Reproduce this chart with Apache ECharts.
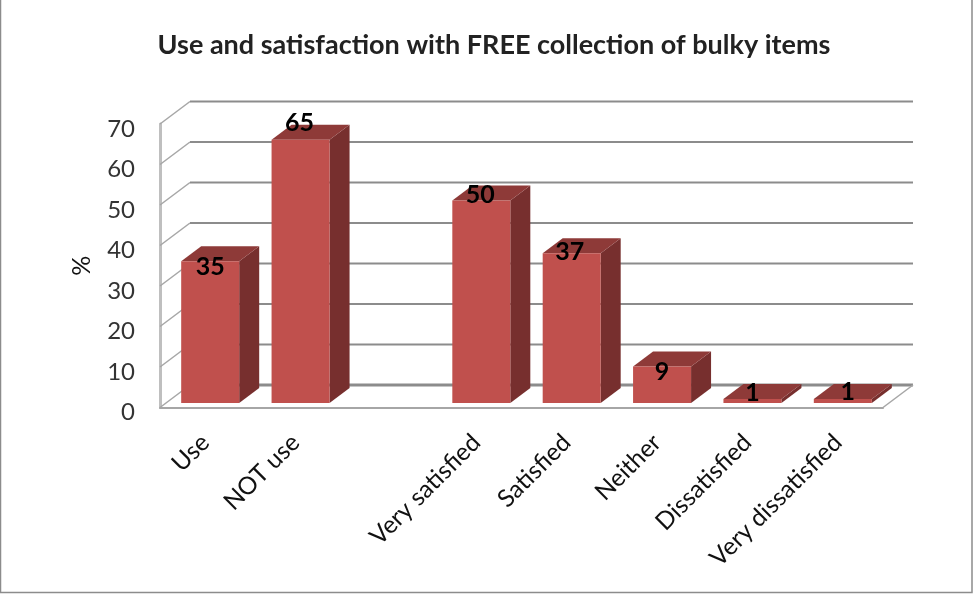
<!DOCTYPE html>
<html>
<head>
<meta charset="utf-8">
<title>Use and satisfaction with FREE collection of bulky items</title>
<script src="https://cdn.jsdelivr.net/npm/echarts@6/dist/echarts.min.js"></script>
<style>
html,body{margin:0;padding:0;background:#fff;}
#chart{width:973px;height:594px;}
</style>
</head>
<body>
<div id="chart"></div>
<script>
//数据
var titleText = "Use and satisfaction with FREE collection of bulky items";
var yName = "%";
var categories = ["Use","NOT use","","Very satisfied","Satisfied","Neither","Dissatisfied","Very dissatisfied"];
var percent = [35,65,null,50,37,9,1,1];
var yTicks = [0,10,20,30,40,50,60,70];

//立体效果的偏移
var depthX = 30, depthY = 22.5;
var barDx = 5, barDy = 4.5, barWidth = 58, sideX = 20, sideY = 15;
//数字标签相对柱子正面顶部中心的偏移
var labelDx = [0,-1,0,-1,-2,0,0,5];
var labelDy = [6,-17,-8,-6,-1,5,-6,-7];

var chart = echarts.init(document.getElementById("chart"));

function renderWall(params, api){
	var p = api.coord([0, api.value(0)]);
	var size = api.size([1, 0]);
	var left = p[0] - size[0] / 2;
	var right = left + size[0] * categories.length;
	var y = p[1];
	var isFloor = api.value(0) === 0;
	var children = [
		{type:"line", shape:{x1:left,y1:y,x2:left+depthX,y2:y-depthY}, style:{stroke:"#a6a6a6",lineWidth:1.5}},
		{type:"line", shape:{x1:left+depthX,y1:y-depthY,x2:right+depthX,y2:y-depthY}, style:{stroke:"#8c8c8c",lineWidth:isFloor?3:2}}
	];
	if(isFloor){
		children.push({type:"line", shape:{x1:right,y1:y,x2:right+depthX,y2:y-depthY}, style:{stroke:"#a6a6a6",lineWidth:1.5}});
	}
	return {type:"group", children:children};
}

function renderBar(params, api){
	var idx = api.value(0);
	var val = api.value(1);
	var top = api.coord([idx, val]);
	var base = api.coord([idx, 0]);
	var x0 = top[0] - barWidth / 2 + barDx;
	var x1 = x0 + barWidth;
	var y0 = top[1] - barDy;
	var y1 = base[1] - barDy;
	return {
		type:"group",
		children:[
			{type:"polygon", shape:{points:[[x1,y0],[x1+sideX,y0-sideY],[x1+sideX,y1-sideY],[x1,y1]]}, style:{fill:"#772f2e"}},
			{type:"polygon", shape:{points:[[x0,y0],[x0+sideX,y0-sideY],[x1+sideX,y0-sideY],[x1,y0]]}, style:{fill:"#8e3a38"}},
			{type:"rect", shape:{x:x0,y:y0,width:barWidth,height:y1-y0}, style:{fill:"#c0504d"}},
			{type:"text", z2:10, style:{
				x:(x0+x1)/2+labelDx[idx],
				y:y0+labelDy[idx],
				text:String(val),
				align:"center",
				verticalAlign:"middle",
				font:"bold 25px Lato",
				fill:"#000"
			}}
		]
	};
}

var barData = [];
for(var i=0;i<percent.length;i++){
	if(percent[i]!=null){
		barData.push([i,percent[i]]);
	}
}

var option = {
	animation:false,
	backgroundColor:"#fff",
	graphic:[{
		type:"rect",
		shape:{x:0.5,y:-2,width:971.5,height:594.5},
		style:{fill:"none",stroke:"#8c8c8c",lineWidth:1.5},
		silent:true
	}],
	title:{
		text:titleText,
		left:489,
		top:27,
		textAlign:"center",
		textStyle:{fontFamily:"Lato",fontSize:27,fontWeight:"bold",color:"#222"}
	},
	grid:{left:160,top:124,width:723,height:283.5},
	xAxis:{
		type:"category",
		data:categories,
		axisTick:{show:false},
		axisLine:{lineStyle:{color:"#a6a6a6",width:2}},
		axisLabel:{interval:0,rotate:45,margin:31,fontFamily:"Lato",fontSize:24.5,color:"#111"}
	},
	yAxis:{
		type:"value",
		min:0,
		max:70,
		interval:10,
		name:yName,
		nameLocation:"middle",
		nameGap:66,
		nameTextStyle:{fontFamily:"Lato",fontSize:25,color:"#111"},
		splitLine:{show:false},
		axisTick:{show:false},
		axisLine:{show:true,lineStyle:{color:"#bfbfbf",width:3}},
		axisLabel:{
			margin:25,
			formatter:"{a|{value}}",
			rich:{a:{padding:[10,0,0,0],fontFamily:"Lato",fontSize:24,color:"#333"}}
		}
	},
	series:[
		{type:"custom",renderItem:renderWall,data:yTicks,encode:{y:0},silent:true,clip:false,z:1},
		{type:"custom",renderItem:renderBar,data:barData,encode:{x:0,y:1},silent:true,clip:false,z:3}
	]
};
chart.setOption(option);
</script>
</body>
</html>
